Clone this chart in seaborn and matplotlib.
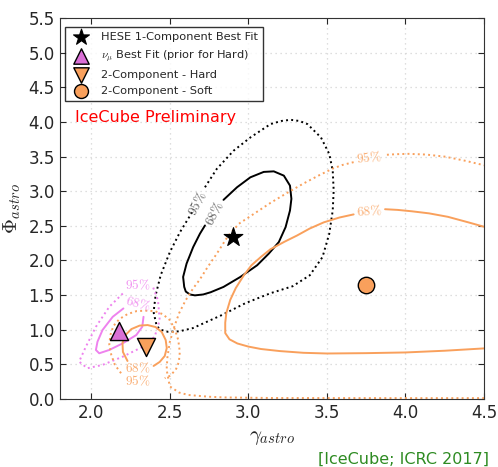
import matplotlib
matplotlib.use("Agg")
import seaborn as sns
import matplotlib.pyplot as plt

# best-fit points (gamma, phi)
hese_best = (2.90, 2.34)
numu_best = (2.18, 0.98)
hard_best = (2.35, 0.75)
soft_best = (3.75, 1.64)

# contours, (gamma, phi) pairs, open at the label gaps
hese68 = [(2.842, 2.875), (2.928, 3.057), (3.013, 3.201), (3.098, 3.279), (3.162, 3.287),
          (3.226, 3.225), (3.265, 3.081), (3.274, 2.890), (3.265, 2.721), (3.237, 2.481),
          (3.194, 2.265), (3.130, 2.098), (3.056, 1.930), (2.949, 1.761), (2.842, 1.617),
          (2.760, 1.540), (2.713, 1.508), (2.660, 1.495), (2.628, 1.508), (2.602, 1.550),
          (2.592, 1.617), (2.585, 1.761), (2.607, 1.954), (2.649, 2.193), (2.692, 2.386),
          (2.724, 2.505)]
hese95 = [(2.724, 3.057), (2.799, 3.322), (2.906, 3.585), (3.013, 3.777), (3.141, 3.970),
          (3.210, 4.015), (3.269, 4.032), (3.325, 4.015), (3.376, 3.970), (3.462, 3.777),
          (3.515, 3.538), (3.537, 3.297), (3.543, 3.009), (3.537, 2.721), (3.515, 2.386),
          (3.472, 2.049), (3.391, 1.785), (3.282, 1.627), (3.141, 1.526), (2.981, 1.382),
          (2.831, 1.210), (2.647, 1.022), (2.560, 0.975), (2.487, 0.969), (2.440, 1.000),
          (2.417, 1.051), (2.397, 1.253), (2.410, 1.497), (2.442, 1.785), (2.500, 2.117),
          (2.564, 2.405), (2.649, 2.721)]
numu68 = [(2.205, 1.306), (2.137, 1.185), (2.072, 0.994), (2.040, 0.825), (2.030, 0.706),
          (2.051, 0.658), (2.115, 0.706), (2.201, 0.802), (2.287, 0.922), (2.325, 1.041),
          (2.333, 1.185)]
numu95 = [(2.201, 1.522), (2.115, 1.329), (2.030, 1.041), (1.966, 0.753), (1.923, 0.537),
          (1.976, 0.442), (2.072, 0.490), (2.201, 0.609), (2.329, 0.753), (2.404, 0.897),
          (2.436, 1.138), (2.425, 1.425), (2.393, 1.617)]
hard68 = [(2.231, 0.547), (2.202, 0.677), (2.199, 0.806), (2.218, 0.922), (2.256, 1.008),
          (2.308, 1.058), (2.359, 1.066), (2.410, 1.037), (2.449, 0.965), (2.474, 0.850),
          (2.481, 0.734), (2.468, 0.619), (2.436, 0.533), (2.397, 0.475)]
hard95 = [(2.190, 0.370), (2.151, 0.490), (2.128, 0.634), (2.115, 0.778), (2.122, 0.922),
          (2.141, 1.051), (2.179, 1.152), (2.231, 1.224), (2.288, 1.267), (2.346, 1.274),
          (2.404, 1.267), (2.455, 1.224), (2.500, 1.138), (2.532, 1.008), (2.554, 0.850),
          (2.564, 0.677), (2.558, 0.533), (2.538, 0.418), (2.500, 0.331), (2.468, 0.298)]
soft68_right = [(4.51, 2.48), (4.40, 2.55), (4.27, 2.63), (4.15, 2.68), (4.04, 2.71),
                (3.95, 2.73), (3.87, 2.74)]
soft68_left = [(3.67, 2.665), (3.58, 2.62), (3.48, 2.55), (3.39, 2.46), (3.31, 2.36),
               (3.23, 2.27), (3.14, 2.16), (3.08, 2.05), (3.02, 1.93), (2.97, 1.78),
               (2.92, 1.60), (2.885, 1.43), (2.86, 1.24), (2.853, 1.10), (2.853, 0.95),
               (2.88, 0.86), (2.93, 0.80), (3.00, 0.755), (3.08, 0.72), (3.20, 0.69),
               (3.35, 0.665), (3.50, 0.655), (3.75, 0.66), (4.00, 0.67), (4.25, 0.695),
               (4.51, 0.73)]
soft95_right = [(4.51, 3.37), (4.38, 3.44), (4.25, 3.50), (4.13, 3.53), (4.02, 3.54),
                (3.94, 3.535), (3.87, 3.525)]
soft95_left = [(3.67, 3.42), (3.60, 3.38), (3.54, 3.33), (3.45, 3.23), (3.35, 3.11),
               (3.25, 2.98), (3.14, 2.83), (3.04, 2.68), (2.94, 2.53), (2.87, 2.35),
               (2.80, 2.10), (2.74, 1.90), (2.69, 1.72), (2.65, 1.60), (2.60, 1.42),
               (2.56, 1.24), (2.53, 1.05), (2.50, 0.82), (2.485, 0.60), (2.48, 0.42),
               (2.50, 0.18), (2.56, 0.09), (2.62, 0.055), (2.75, 0.03), (2.85, 0.02),
               (3.14, 0.012), (3.97, 0.01), (4.51, 0.01)]

# contour labels: (gamma, phi, text, rotation)
hese_labels = [(2.68, 2.82, "95%", 63), (2.785, 2.67, "68%", 63)]
numu_labels = [(2.297, 1.64, "95%", 0), (2.297, 1.38, "68%", -15)]
hard_labels = [(2.297, 0.44, "68%", 0), (2.297, 0.25, "95%", 0)]
soft_labels = [(3.77, 3.48, "95%", 6), (3.77, 2.71, "68%", 4)]

orange = "#f9a05c"
pink = "violet"

sns.set_style("ticks")
plt.rcParams["mathtext.fontset"] = "cm"
plt.rcParams["font.family"] = ["DejaVu Sans"]

fig = plt.figure(figsize=(4.98, 4.67), dpi=100)
ax = fig.add_axes([0.12, 0.146, 0.852, 0.815])


def draw(points, color, style):
    xs = [p[0] for p in points]
    ys = [p[1] for p in points]
    sns.lineplot(x=xs, y=ys, sort=False, estimator=None, color=color, linestyle=style,
                 linewidth=1.4, ax=ax)


def label(items, color):
    for x, y, t, rot in items:
        ax.text(x, y, "$" + t.replace("%", r"\%") + "$", color=color, rotation=rot,
                fontsize=9.5, ha="center", va="center", alpha=0.85)


draw(hese68, "black", "-")
draw(hese95, "black", ":")
draw(numu68, pink, "-")
draw(numu95, pink, ":")
draw(hard68, orange, "-")
draw(hard95, orange, ":")
draw(soft68_right, orange, "-")
draw(soft68_left, orange, "-")
draw(soft95_right, orange, ":")
draw(soft95_left, orange, ":")

label(hese_labels, "#444444")
label(numu_labels, pink)
label(hard_labels, orange)
label(soft_labels, orange)

sns.scatterplot(x=[hese_best[0]], y=[hese_best[1]], marker="*", s=200, color="black",
                edgecolor="black", linewidth=0.8, zorder=5, label="HESE 1-Component Best Fit", ax=ax)
sns.scatterplot(x=[numu_best[0]], y=[numu_best[1]], marker="^", s=170, color="orchid",
                edgecolor="black", linewidth=1.0, zorder=5, label=r"$\nu_\mu$ Best Fit (prior for Hard)", ax=ax)
sns.scatterplot(x=[hard_best[0]], y=[hard_best[1]], marker="v", s=170, color=orange,
                edgecolor="black", linewidth=1.0, zorder=5, label="2-Component - Hard", ax=ax)
sns.scatterplot(x=[soft_best[0]], y=[soft_best[1]], marker="o", s=140, color=orange,
                edgecolor="black", linewidth=1.0, zorder=5, label="2-Component - Soft", ax=ax)

ax.set_xlim(1.8, 4.5)
ax.set_ylim(0.0, 5.5)
ax.set_xticks([2.0, 2.5, 3.0, 3.5, 4.0, 4.5])
ax.set_yticks([0.0, 0.5, 1.0, 1.5, 2.0, 2.5, 3.0, 3.5, 4.0, 4.5, 5.0, 5.5])
ax.tick_params(direction="in", top=True, right=True, labelsize=12, length=4)
ax.grid(True, color="#d4d4d4", linestyle=(0, (1, 3)), linewidth=0.9)
for sp in ax.spines.values():
    sp.set_color("#333333")
ax.set_xlabel(r"$\gamma_{astro}$", fontsize=15)
ax.set_ylabel(r"$\Phi_{astro}$", fontsize=15)

leg = ax.legend(loc="upper left", fontsize=8.2, frameon=True, fancybox=False,
                edgecolor="black", borderpad=0.45, labelspacing=0.5, handletextpad=0.7,
                markerscale=0.85, borderaxespad=0.0, bbox_to_anchor=(0.012, 0.976))
leg.get_frame().set_linewidth(1.0)

ax.text(1.897, 4.06, "IceCube Preliminary", color="red", fontsize=11.5, va="center")
fig.text(0.982, 0.016, "[IceCube; ICRC 2017]", color="#2e8b22", fontsize=11.5,
         ha="right", va="center")

fig.savefig("out.png", dpi=100)
